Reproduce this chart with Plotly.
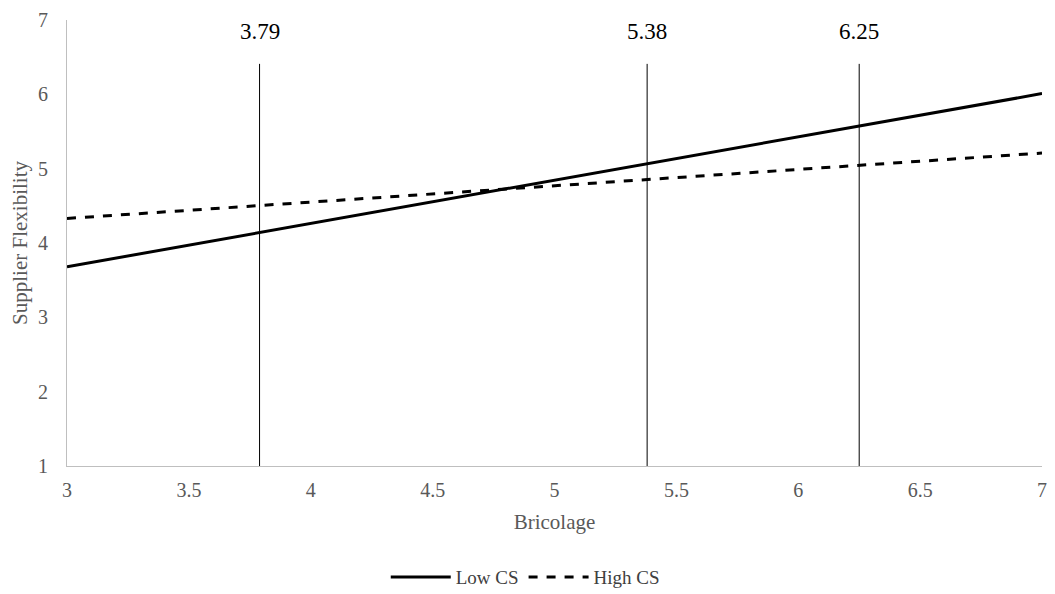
import plotly.graph_objects as go

x_vals = [3, 7]
low_cs = [3.68, 6.01]
high_cs = [4.33, 5.21]
jn_points = [3.79, 5.38, 6.25]
jn_labels = ["3.79", "5.38", "6.25"]
jn_line_top = 6.41
jn_label_y = 6.84
x_ticks = [3, 3.5, 4, 4.5, 5, 5.5, 6, 6.5, 7]
x_tick_text = ["3", "3.5", "4", "4.5", "5", "5.5", "6", "6.5", "7"]
y_ticks = [1, 2, 3, 4, 5, 6, 7]

FONT = "Liberation Serif, Times New Roman, serif"
GREY = "#595959"

fig = go.Figure()
fig.add_trace(go.Scatter(x=x_vals, y=low_cs, mode="lines", name="Low CS",
                         line=dict(color="black", width=3)))
fig.add_trace(go.Scatter(x=x_vals, y=high_cs, mode="lines", name="High CS",
                         line=dict(color="black", width=3, dash="dash")))
for xv, lab in zip(jn_points, jn_labels):
    fig.add_trace(go.Scatter(x=[xv, xv], y=[1, jn_line_top], mode="lines",
                             line=dict(color="black", width=1), showlegend=False,
                             hoverinfo="skip"))
    fig.add_annotation(x=xv, y=jn_label_y, text=lab, showarrow=False,
                       font=dict(family=FONT, size=23, color="black"))

fig.update_layout(
    width=1047, height=586,
    margin=dict(l=59, r=13, t=12, b=128, autoexpand=False),
    plot_bgcolor="white", paper_bgcolor="white",
    font=dict(family=FONT, color=GREY, size=20),
    showlegend=True,
    legend=dict(orientation="h", x=0.47, xanchor="center", y=-0.249, yanchor="middle",
                font=dict(family=FONT, size=19, color="#404040"), itemwidth=60),
    xaxis=dict(range=[3, 7], tickmode="array", tickvals=x_ticks, ticktext=x_tick_text,
               showgrid=False, zeroline=False,
               showline=True, linecolor="#bfbfbf", linewidth=1,
               ticks="outside", ticklen=6, tickcolor="rgba(0,0,0,0)",
               ticklabeloverflow="allow",
               tickfont=dict(family=FONT, size=20, color=GREY), automargin=False,
               title=dict(text="Bricolage", font=dict(family=FONT, size=21, color=GREY), standoff=14)),
    yaxis=dict(range=[1, 7], tickmode="array", tickvals=y_ticks,
               showgrid=False, zeroline=False,
               showline=True, linecolor="#bfbfbf", linewidth=1,
               ticks="outside", ticklen=14, tickcolor="rgba(0,0,0,0)",
               tickfont=dict(family=FONT, size=20, color=GREY), automargin=False,
               title=dict(text="Supplier Flexibility", font=dict(family=FONT, size=21, color=GREY), standoff=6)),
)
fig.write_html("out.html")
